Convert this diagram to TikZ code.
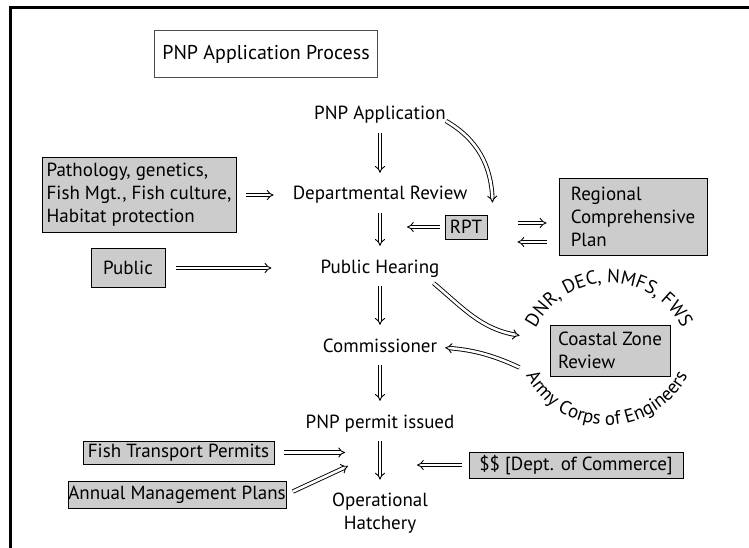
\documentclass[tikz,border=0pt]{standalone}
\usepackage{fontspec}
\setmainfont{PT Sans}
\usetikzlibrary{arrows.meta,decorations.text}

\definecolor{boxgrey}{RGB}{204,204,204}
\newcommand\bodysize{\fontsize{19}{23}\selectfont}
\newcommand\titlesize{\fontsize{20}{24}\selectfont}

\tikzset{
  flow/.style={double, double distance=2.6pt, line width=0.9pt, -{Implies[length=6pt, width=13pt]}},
  down/.style={flow, shorten <=9pt, shorten >=13pt},
  stage/.style={inner sep=0pt, font=\bodysize, text height=14pt, text depth=4pt},
  greybox/.style={draw, line width=1pt, fill=boxgrey, font=\bodysize, align=left, inner sep=0pt},
}

\begin{document}
\begin{tikzpicture}[x=1pt, y=1pt]
  \useasboundingbox (0,0) rectangle (749,-548);
  \draw[line width=3pt] (10,-548) -- (10,-8) -- (749,-8);

  \node[draw=black!70, line width=1pt, fill=white, font=\titlesize,
        minimum width=223pt, minimum height=47pt] (title) at (266,-54) {PNP Application Process};

  % main column
  \node[stage] (app) at (380,-115) {PNP Application};
  \node[stage] (dept) at (380,-195) {Departmental Review};
  \node[stage] (hear) at (380,-268) {Public Hearing};
  \node[stage] (comm) at (380,-347) {Commissioner};
  \node[stage] (permit) at (380,-423) {PNP permit issued};
  \node[font=\bodysize, align=center, inner sep=0pt] (hatch) at (380,-513) {Operational\\Hatchery};

  % inputs
  \node[greybox, minimum width=194pt, minimum height=74pt] (patho) at (139,-195)
    {Pathology, genetics,\\Fish Mgt., Fish culture,\\Habitat protection};
  \node[greybox, minimum width=74pt, minimum height=39pt] (public) at (128,-268) {Public};
  \node[greybox, minimum width=42pt, minimum height=24pt] (rpt) at (466,-227) {RPT};
  \node[greybox, minimum width=148pt, minimum height=76pt] (rcp) at (633,-217)
    {Regional\\Comprehensive\\Plan};
  \node[greybox, minimum width=120pt, minimum height=51pt] (czr) at (610,-350.5)
    {Coastal Zone\\Review};
  \node[greybox, minimum width=191pt, minimum height=23pt] (fish) at (178.5,-452.5) {Fish Transport Permits};
  \node[greybox, minimum width=218pt, minimum height=27pt] (annual) at (177,-494.5) {Annual Management Plans};
  \node[greybox, minimum width=214pt, minimum height=26pt] (dollar) at (576,-465) {\$\$ [Dept. of Commerce]};
  \coordinate (tip) at (348,-466);

  % agencies round the coastal zone review
  \path[decorate, decoration={text along path, text align=center,
        text={|\bodysize|DNR{,} DEC{,} NMFS{,} FWS}}]
    (609,-365) ++(190:82) arc[start angle=190, end angle=-10, radius=82];
  \path[decorate, decoration={text along path, text align=center,
        text={|\bodysize|Army Corps of Engineers}}]
    (607,-334) ++(180:91) arc[start angle=180, end angle=360, radius=91];

  % Draw the process steps
  \foreach \a/\b in {app/dept, dept/hear, hear/comm, comm/permit, permit/hatch}
    \draw[down] (\a) -- (\b);

  \draw[flow, shorten <=9pt, shorten >=19pt] (patho) -- (dept);
  \draw[flow, shorten <=10pt, shorten >=49pt] (public) -- (hear);
  \draw[flow, shorten <=5pt, shorten >=27pt] (rpt.west) -- (rpt.west -| dept);
  \draw[flow] ([yshift=-6pt]app.east) to[out=-30, in=92] ([xshift=5pt, yshift=12pt]rpt.north east);
  \draw[flow, shorten <=30pt, shorten >=12pt] ([yshift=4pt]rpt.east) -- ([yshift=4pt]rpt.east -| rcp.west);
  \draw[flow, shorten <=12pt, shorten >=30pt] ([yshift=-15pt]rpt.east -| rcp.west) -- ([yshift=-15pt]rpt.east);
  \draw[flow] ([xshift=-6pt, yshift=-6pt]hear.south east) to[out=-40, in=170] ([xshift=-30pt, yshift=15pt]czr.west);
  \draw[flow, shorten >=8pt] ([xshift=-30pt, yshift=-17pt]czr.west) to[out=155, in=-5] (comm.east);

  % Draw the last inputs
  \draw[flow, shorten <=9pt, shorten >=3pt] (fish.east) -- (fish.east -| tip);
  \draw[flow, shorten <=7pt] (annual.east) -- (tip);
  \draw[flow, shorten <=7pt, shorten >=37pt] (dollar.west) -- (dollar.west -| permit);
\end{tikzpicture}
\end{document}
